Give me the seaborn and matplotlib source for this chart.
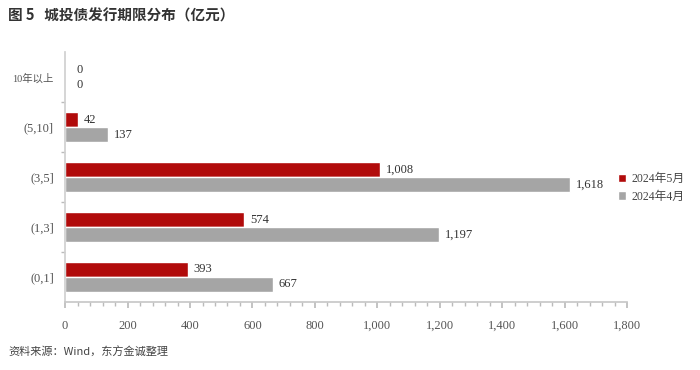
import matplotlib
matplotlib.use("Agg")
import matplotlib.pyplot as plt
import seaborn as sns
import pandas as pd
import numpy as np
from matplotlib.ticker import MultipleLocator, FuncFormatter, FixedLocator

categories = ["10年以上", "(5,10]", "(3,5]", "(1,3]", "(0,1]"]
may_2024 = [0, 42, 1008, 574, 393]
apr_2024 = [0, 137, 1618, 1197, 667]
series_names = ["2024年5月", "2024年4月"]
colors = ["#B10B0B", "#A5A5A5"]

df = pd.DataFrame({
    "cat": categories * 2,
    "val": may_2024 + apr_2024,
    "series": [series_names[0]] * len(categories) + [series_names[1]] * len(categories),
})

sns.set_theme(style="white")
serif = ["Liberation Serif", "Noto Sans CJK SC"]
plt.rcParams["font.family"] = serif

fig = plt.figure(figsize=(7, 3.7), dpi=100)
ax = fig.add_axes([0.093, 0.184, 0.803, 0.675])
sns.barplot(data=df, y="cat", x="val", hue="series", order=categories,
            hue_order=series_names, palette=colors, orient="h", width=0.6,
            gap=0, ax=ax, saturation=1, legend=True)

for cont in ax.containers:
    for bar in cont:
        w = bar.get_width()
        y = bar.get_y() + bar.get_height() / 2
        ax.annotate(f"{int(round(w)):,}", (w, y), xytext=(4 if w > 0 else 8, 0),
                    textcoords="offset points",
                    va="center", ha="left", fontsize=9, color="#333333",
                    family=serif)

ax.set_xlim(0, 1800)
ax.set_ylim(4.5, -0.5)
ax.xaxis.set_major_locator(MultipleLocator(200))
ax.xaxis.set_minor_locator(MultipleLocator(40))
ax.xaxis.set_major_formatter(FuncFormatter(lambda v, p: f"{int(v):,}"))
ax.tick_params(axis="x", which="major", length=4, color="#BBBBBB", labelsize=9,
               labelcolor="#555555", pad=9, bottom=True, direction="out")
ax.tick_params(axis="x", which="minor", length=3, color="#BBBBBB", bottom=True, direction="out")
ax.yaxis.set_minor_locator(FixedLocator([0.5, 1.5, 2.5, 3.5]))
ax.tick_params(axis="y", which="major", length=0, labelsize=9, labelcolor="#555555", pad=8)
ax.tick_params(axis="y", which="minor", length=3, color="#BBBBBB", left=True, direction="out")
for lab in ax.get_yticklabels():
    lab.set_family(serif)
    if "年" in lab.get_text():
        lab.set_fontsize(7.5)
for lab in ax.get_xticklabels():
    lab.set_family(serif)

ax.set_xlabel("")
ax.set_ylabel("")
for s in ["top", "right"]:
    ax.spines[s].set_visible(False)
ax.spines["left"].set_color("#D0D0D0")
ax.spines["bottom"].set_color("#C8C8C8")
ax.grid(False)

leg = ax.legend(loc="center left", bbox_to_anchor=(0.868, 0.492),
                bbox_transform=fig.transFigure, frameon=False,
                handlelength=0.7, handleheight=0.7, handletextpad=0.4,
                labelspacing=0.45, prop={"family": serif, "size": 8.5})
for t in leg.get_texts():
    t.set_color("#444444")

fig.text(0.012, 0.958, "图 5   城投债发行期限分布（亿元）", fontsize=10.5, fontweight="bold",
         family=["Noto Sans CJK SC", "DejaVu Sans"], color="#333333", va="center")
fig.text(0.012, 0.048, "资料来源：Wind，东方金诚整理", fontsize=8,
         family=["Noto Sans CJK SC", "DejaVu Sans"], color="#444444", va="center")

fig.savefig("out.png", dpi=100)
